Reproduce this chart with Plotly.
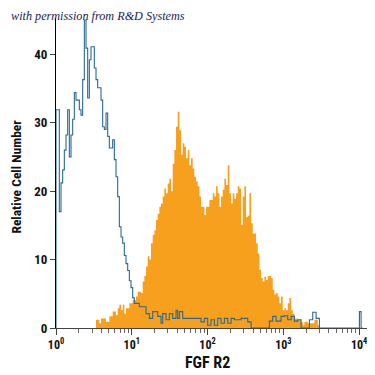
import numpy as np
import plotly.graph_objects as go

# Histogram channels: each channel spans CHANNEL_DECADES in log10 of fluorescence
CHANNEL_DECADES = 0.022

# Isotype control (blue outline), channels 0..183
isotype_counts = [
    31.9, 31.9, 17.0, 21.2, 23.1, 26.0, 28.2, 31.9, 25.0, 28.2,
    30.5, 34.4, 33.3, 33.3, 31.9, 31.1, 36.3, 45.0, 40.9, 33.6,
    39.2, 41.1, 41.1, 38.0, 36.3, 35.1, 35.1, 33.3, 29.4, 29.0,
    31.4, 28.0, 26.3, 26.3, 27.5, 24.6, 22.1, 19.2, 14.8, 13.3,
    12.4, 10.6, 9.4, 8.4, 6.9, 5.9, 4.4, 3.6, 3.6, 3.6,
    3.1, 3.1, 3.1, 3.1, 2.1, 2.1, 1.4, 1.4, 2.4, 2.4,
    2.4, 1.7, 1.7, 0.7, 2.1, 2.1, 1.2, 1.2, 2.1, 2.1,
    1.4, 1.4, 2.6, 1.4, 2.4, 2.4, 1.4, 1.4, 1.4, 1.4,
    1.4, 1.4, 1.4, 1.4, 1.4, 1.4, 1.4, 0.9, 0.9, 1.4,
    1.4, 0.4, 0.4, 1.2, 1.2, 0.4, 0.4, 1.4, 1.4, 0.7,
    0.7, 1.4, 1.4, 0.7, 0.7, 1.4, 1.4, 1.2, 1.2, 1.2,
    1.2, 1.4, 1.4, 1.4, 1.4, 0.9, 0.9, 0, 0, 0,
    0, 0, 0, 0, 0, 0, 0, 0, 1.0, 1.0,
    1.7, 1.7, 1.0, 1.0, 1.0, 1.7, 1.7, 1.8, 1.8, 1.2,
    1.2, 1.7, 1.7, 1.0, 1.0, 1.2, 1.2, 0, 0, 0,
    0, 0, 1.2, 1.2, 2.3, 2.3, 1.4, 1.4, 0, 0,
    0, 0, 0, 0, 0, 0, 0, 0, 0, 0,
    0, 0, 0, 0, 0, 0, 0, 0, 0, 0,
    0, 0, 2.4, 0,
]
isotype_first_channel = 0

# FGF R2 stained cells (orange filled), channels 24..157
fgfr2_first_channel = 24
fgfr2_counts = [
    1.2, 1.2, 0.7, 1.4, 1.4, 1.4, 0.9, 0.9, 1.7, 1.7,
    2.4, 2.4, 1.9, 2.9, 3.4, 2.6, 3.4, 2.1, 2.9, 2.9,
    3.6, 3.6, 4.1, 4.1, 4.6, 5.3, 5.3, 5.1, 6.8, 7.6,
    9.0, 10.5, 10.0, 12.4, 13.6, 14.3, 15.8, 16.7, 17.7, 18.2,
    19.2, 20.4, 19.7, 21.1, 21.8, 20.0, 24.0, 26.0, 29.4, 31.6,
    28.9, 25.3, 27.0, 26.5, 24.8, 26.0, 23.8, 24.8, 23.3, 22.1,
    21.4, 20.7, 19.2, 17.7, 17.7, 16.5, 17.7, 17.7, 18.7, 18.7,
    19.7, 19.2, 20.7, 19.7, 17.7, 19.2, 20.2, 21.8, 20.9, 23.8,
    19.7, 18.2, 19.7, 18.9, 19.7, 20.7, 20.4, 15.1, 19.2, 20.7,
    16.2, 16.4, 19.7, 15.3, 13.8, 13.8, 12.4, 10.9, 8.5, 7.3,
    6.8, 7.5, 7.0, 7.6, 7.6, 7.3, 5.6, 4.9, 5.1, 4.6,
    3.6, 4.6, 2.6, 2.9, 2.6, 3.6, 4.4, 2.6, 2.1, 1.4,
    1.4, 1.2, 1.2, 0.9, 0.4, 0.9, 0.9, 0.7, 0.7, 0.7,
    0.7, 1.2, 1.2, 0.4,
]

x_tick_exponents = [0, 1, 2, 3, 4]
y_tick_values = [0, 10, 20, 30, 40]


def step_xy(first_channel, counts, lead_zero=False):
    n = len(counts)
    edges = 10 ** (CHANNEL_DECADES * (first_channel + np.arange(n + 1)))
    xs = list(edges)
    ys = list(counts) + [0]
    if lead_zero:
        xs = [edges[0]] + xs
        ys = [0] + ys
    return xs, ys


ox, oy = step_xy(fgfr2_first_channel, fgfr2_counts)
bx, by = step_xy(isotype_first_channel, isotype_counts, lead_zero=True)

fig = go.Figure()
fig.add_trace(go.Scatter(
    x=ox, y=oy, mode="lines", line_shape="hv",
    line=dict(width=0, color="#f7a01e"),
    fill="tozeroy", fillcolor="#f7a01e",
    hoverinfo="skip", showlegend=False,
))
fig.add_trace(go.Scatter(
    x=bx, y=by, mode="lines", line_shape="hv",
    line=dict(width=1.1, color="#2b6a94"),
    hoverinfo="skip", showlegend=False,
))

cond = "Liberation Sans Narrow, Roboto Condensed, DejaVu Sans Condensed, Arial Narrow, sans-serif"

minor_vals = [k * 10 ** d for d in range(0, 4) for k in range(2, 10)]

# The page body adds an 8px margin, so the figure is 8px smaller than the window.
fig.update_layout(
    width=367, height=367,
    margin=dict(l=48, r=3, t=10, b=47),
    paper_bgcolor="white", plot_bgcolor="white",
    xaxis=dict(
        type="log", range=[0, 4.17], automargin=False,
        tickmode="array",
        tickvals=[10 ** e for e in x_tick_exponents],
        ticktext=["<b>10<sup>%d</sup></b>" % e for e in x_tick_exponents],
        ticks="outside", ticklen=6, tickcolor="#444", tickwidth=1,
        showline=True, linecolor="#444", linewidth=1,
        showgrid=False, zeroline=False,
        tickfont=dict(family=cond, size=12, color="#111"),
        minor=dict(tickmode="array", tickvals=minor_vals, ticks="outside",
                   ticklen=4, tickcolor="#666", showgrid=False),
    ),
    yaxis=dict(
        range=[0, 45.3], automargin=False,
        tickmode="array", tickvals=y_tick_values,
        ticktext=["<b>%d</b>" % v for v in y_tick_values],
        ticks="outside", ticklen=5, tickcolor="#444",
        showline=True, linecolor="black", linewidth=1,
        showgrid=False, zeroline=False,
        tickfont=dict(family=cond, size=13, color="#111"),
    ),
    annotations=[
        dict(text="<b>Relative Cell Number</b>", xref="paper", yref="paper",
             x=-0.128, y=0.487, textangle=-90, showarrow=False,
             font=dict(family=cond, size=13.5, color="#111"),
             xanchor="center", yanchor="middle"),
        dict(text="<b>FGF R2</b>", xref="paper", yref="paper",
             x=0.478, y=-0.11, showarrow=False,
             font=dict(family=cond, size=16, color="#111"),
             xanchor="center", yanchor="middle"),
        dict(text="<i>with permission from R&amp;D Systems</i>", xref="paper", yref="paper",
             x=-0.15, y=1.006, showarrow=False,
             font=dict(family="Liberation Serif, DejaVu Serif, serif", size=12.2, color="#1c1c55"),
             xanchor="left", yanchor="middle"),
    ],
)

fig.write_html("out.html")
